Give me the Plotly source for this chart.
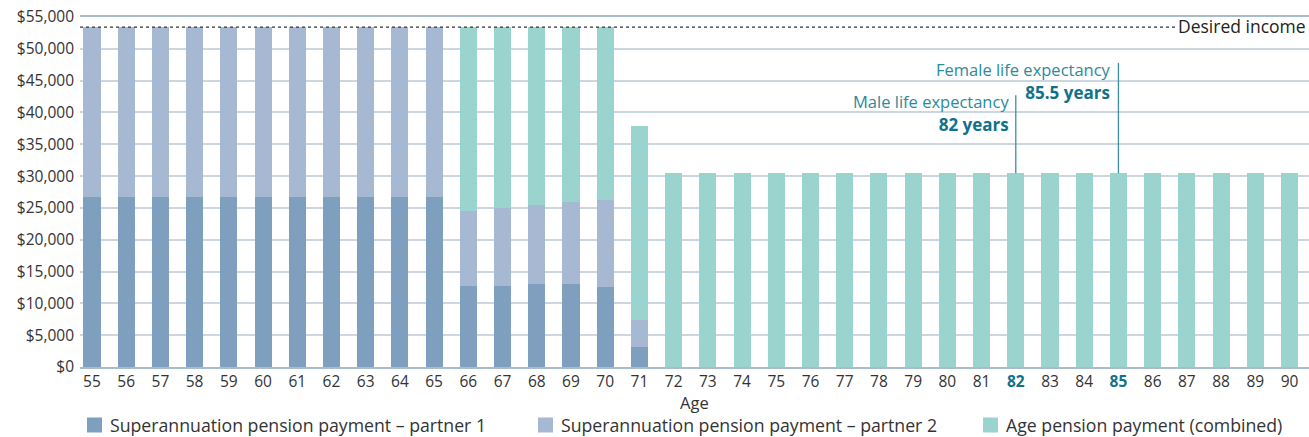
import plotly.graph_objects as go

ages = list(range(55, 91))
partner1 = [26700]*11 + [12700, 12800, 13000, 13000, 12500, 3100] + [0]*19
partner2 = [26700]*11 + [11800, 12200, 12400, 12900, 13800, 4250] + [0]*19
age_pension = [0]*11 + [28900, 28400, 28000, 27500, 27100, 30450] + [30450]*19

desired_income = 53400
male_le_age = 82
female_le_age = 85
y_ticks = list(range(0, 55001, 5000))
y_ticktext = ["$" + format(v, ",") for v in y_ticks]

series_names = ["Superannuation pension payment – partner 1",
                "Superannuation pension payment – partner 2",
                "Age pension payment (combined)"]
colors = ["#7f9fbe", "#a7b9d2", "#9bd3cf"]

FONT = "Open Sans"
TXT = "#333333"
TEAL = "#2b8a9c"
TEAL_B = "#11718a"

W, H = 1309, 437
ML, MR, MT, MB = 80, 0, 17, 70
PW, PH = W - ML - MR, H - MT - MB


def px_x(x):
    return (x - ML) / PW


def px_y(y):
    return (H - MB - y) / PH


fig = go.Figure()
for name, vals, c in zip(series_names, [partner1, partner2, age_pension], colors):
    fig.add_trace(go.Bar(x=ages, y=vals, name=name, marker=dict(color=c, line=dict(width=0)),
                         width=0.5, showlegend=False))

tick_text = []
for a in ages:
    if a in (male_le_age, female_le_age):
        tick_text.append(f"<span style='color:{TEAL_B}'><b>{a}</b></span>")
    else:
        tick_text.append(str(a))

fig.update_layout(
    barmode="stack",
    width=W, height=H,
    margin=dict(l=ML, r=MR, t=MT, b=MB, autoexpand=False),
    paper_bgcolor="white", plot_bgcolor="white",
    font=dict(family=FONT, size=16, color=TXT),
    showlegend=False,
    xaxis=dict(range=[54.65, 90.57], tickmode="array", tickvals=ages, ticktext=tick_text,
               showgrid=False, showline=True, linecolor="#a9bccb", linewidth=1.5, mirror=True,
               ticks="", tickfont=dict(size=15.5), zeroline=False),
    yaxis=dict(range=[0, 55000], tickmode="array", tickvals=y_ticks, ticktext=y_ticktext,
               showgrid=True, gridcolor="#cad6e0", gridwidth=1.5, zeroline=False,
               showline=False, ticks="", tickfont=dict(size=15.5), ticklabelstandoff=5),
)

# x-axis title
fig.add_annotation(xref="paper", yref="paper", x=0.5, y=px_y(402.5), text="Age", showarrow=False,
                   xanchor="center", yanchor="middle", font=dict(size=16.5, color=TXT))

# custom legend (one row, as in the reference)
legend_x = [87, 538, 983]
for name, c, lx in zip(series_names, colors, legend_x):
    fig.add_shape(type="rect", xref="paper", yref="paper",
                  x0=px_x(lx), x1=px_x(lx + 15), y0=px_y(432.5), y1=px_y(417.5),
                  fillcolor=c, line=dict(width=0))
    fig.add_annotation(xref="paper", yref="paper", x=px_x(lx + 21), y=px_y(425.2), text=name,
                       showarrow=False, xanchor="left", yanchor="middle",
                       font=dict(size=17.7, color=TXT))

# desired income dotted line
fig.add_shape(type="line", xref="paper", yref="y", x0=0, x1=0.891, y0=desired_income, y1=desired_income,
              line=dict(color="#333333", width=1.2, dash="dot"))
fig.add_annotation(xref="paper", yref="y", x=1.0, y=desired_income, text="Desired income",
                   showarrow=False, xanchor="right", yanchor="middle", xshift=-1, yshift=1,
                   font=dict(size=17.5, color="#222222"))

# life expectancy markers
for age, top, label, yrs in [(male_le_age, 42700, "Male life expectancy", "82 years"),
                             (female_le_age, 47800, "Female life expectancy", "85.5 years")]:
    fig.add_shape(type="line", xref="x", yref="y", x0=age, x1=age, y0=age_pension[ages.index(age)], y1=top,
                  line=dict(color="#3f8f9f", width=1.3))
    txt = (f"<span style='font-size:16.5px;color:{TEAL}'>{label}</span><br>"
           f"<span style='font-size:17px;color:{TEAL_B}'><b>{yrs}</b></span>")
    fig.add_annotation(xref="x", yref="y", x=age, y=top, text=txt, showarrow=False,
                       xanchor="right", yanchor="middle", align="right", xshift=-5, yshift=-18,
                       font=dict(size=17.5, color=TEAL))

fig.write_html("out.html", config=dict(displayModeBar=False),
               post_script="document.body.style.margin='0';document.body.style.overflow='hidden';")
